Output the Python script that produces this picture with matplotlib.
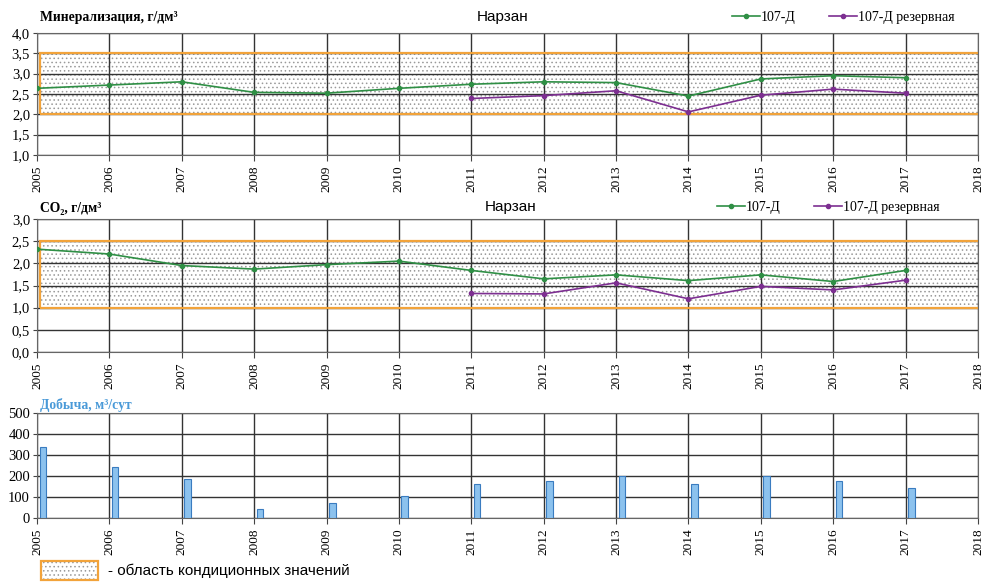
import matplotlib
matplotlib.use('Agg')
import matplotlib.pyplot as plt
from matplotlib.patches import Rectangle

# Data
years = [2005, 2006, 2007, 2008, 2009, 2010, 2011, 2012, 2013, 2014, 2015, 2016, 2017]
years_res = [2011, 2012, 2013, 2014, 2015, 2016, 2017]

mineral_107 = [2.64, 2.72, 2.80, 2.54, 2.52, 2.64, 2.74, 2.80, 2.78, 2.45, 2.87, 2.95, 2.90]
mineral_res = [2.39, 2.46, 2.58, 2.06, 2.47, 2.62, 2.52]

co2_107 = [2.32, 2.21, 1.95, 1.87, 1.97, 2.05, 1.84, 1.65, 1.74, 1.61, 1.74, 1.59, 1.84]
co2_res = [1.32, 1.31, 1.56, 1.20, 1.48, 1.40, 1.62]

production = [337, 241, 184, 45, 72, 105, 163, 174, 198, 160, 198, 174, 142]

mineral_range = (2.0, 3.5)
co2_range = (1.0, 2.5)

GREEN = '#2f8f45'
PURPLE = '#7d2f91'
ORANGE = '#f2a33a'
SERIF = ['Liberation Serif', 'DejaVu Serif']
SANS = ['Liberation Sans', 'DejaVu Sans']

plt.rcParams['font.family'] = SERIF
plt.rcParams['hatch.linewidth'] = 0.6

fig = plt.figure(figsize=(9.81, 5.82), dpi=100)

left, width = 37 / 981, 941 / 981
ax1 = fig.add_axes([left, 1 - 155 / 582, width, 122 / 582])
ax2 = fig.add_axes([left, 1 - 352 / 582, width, 133 / 582])
ax3 = fig.add_axes([left, 1 - 518 / 582, width, 105 / 582])

comma = plt.FuncFormatter(lambda v, _: f'{v:.1f}'.replace('.', ','))


def style_axis(ax, ymin, ymax, step):
    ax.set_xlim(2005, 2018)
    ax.set_ylim(ymin, ymax)
    ax.set_xticks(range(2005, 2019))
    ax.set_yticks([ymin + i * step for i in range(int(round((ymax - ymin) / step)) + 1)])
    ax.grid(True, color='#333333', linewidth=1.0)
    for s in ax.spines.values():
        s.set_color('#666666')
    ax.tick_params(axis='x', labelrotation=90, labelsize=9.5, length=4, color='#444444')
    ax.tick_params(axis='y', labelsize=10.5, length=3, color='#444444', pad=2)


def cond_area(ax, lo, hi):
    ax.add_patch(Rectangle((2005.04, lo), 14, hi - lo, facecolor='white',
                           edgecolor='#9a9a9a', hatch='....', linewidth=0, zorder=0.5))
    ax.add_patch(Rectangle((2005.04, lo), 14, hi - lo, facecolor='none',
                           edgecolor=ORANGE, linewidth=1.6, zorder=2))


def add_legend(ax, anchor_x, anchor_y):
    ax.legend(loc='center right', bbox_to_anchor=(anchor_x, anchor_y), ncol=2,
              frameon=False, fontsize=10, handlelength=2.0, handletextpad=0.1,
              columnspacing=2.4, borderaxespad=0, borderpad=0)


# Top: mineralization
style_axis(ax1, 1.0, 4.0, 0.5)
ax1.yaxis.set_major_formatter(comma)
cond_area(ax1, *mineral_range)
ax1.plot(years, mineral_107, color=GREEN, marker='o', markersize=3, linewidth=1.2,
         label='107-Д', zorder=3)
ax1.plot(years_res, mineral_res, color=PURPLE, marker='o', markersize=3, linewidth=1.2,
         label='107-Д резервная', zorder=3)
add_legend(ax1, (955 - 37) / 941, 1 + 16 / 122)

# Middle: CO2
style_axis(ax2, 0.0, 3.0, 0.5)
ax2.yaxis.set_major_formatter(comma)
cond_area(ax2, *co2_range)
ax2.plot(years, co2_107, color=GREEN, marker='o', markersize=3, linewidth=1.2,
         label='107-Д', zorder=3)
ax2.plot(years_res, co2_res, color=PURPLE, marker='o', markersize=3, linewidth=1.2,
         label='107-Д резервная', zorder=3)
add_legend(ax2, (940 - 37) / 941, 1 + 12 / 133)

# Bottom: production
style_axis(ax3, 0, 500, 100)
ax3.bar([y + 0.035 for y in years], production, width=0.09, align='edge',
        color='#8cc2ee', edgecolor='#3a7cc0', linewidth=0.8, zorder=3)

# Titles
fig.text(40 / 981, 1 - 17 / 582, 'Минерализация, г/дм³', fontsize=9.8,
         fontweight='bold', va='center', ha='left')
fig.text(503 / 981, 1 - 17 / 582, 'Нарзан', fontsize=11, family=SANS,
         va='center', ha='center')
fig.text(40 / 981, 1 - 208 / 582, 'CO₂, г/дм³', fontsize=9.8,
         fontweight='bold', va='center', ha='left')
fig.text(511 / 981, 1 - 207 / 582, 'Нарзан', fontsize=11, family=SANS,
         va='center', ha='center')
fig.text(40 / 981, 1 - 405 / 582, 'Добыча, м³/сут', fontsize=9.8,
         fontweight='bold', color='#4a9ad8', va='center', ha='left')

# Bottom legend for the condition area
fig.patches.append(Rectangle((41 / 981, 1 - 580 / 582), 57 / 981, 19 / 582,
                             transform=fig.transFigure, facecolor='white',
                             edgecolor='#9a9a9a', hatch='....', linewidth=0))
fig.patches.append(Rectangle((41 / 981, 1 - 580 / 582), 57 / 981, 19 / 582,
                             transform=fig.transFigure, facecolor='none',
                             edgecolor=ORANGE, linewidth=1.6))
fig.text(108 / 981, 1 - 571 / 582, '- область кондиционных значений', fontsize=11,
         family=SANS, va='center', ha='left')

fig.savefig('out.png', dpi=100)
